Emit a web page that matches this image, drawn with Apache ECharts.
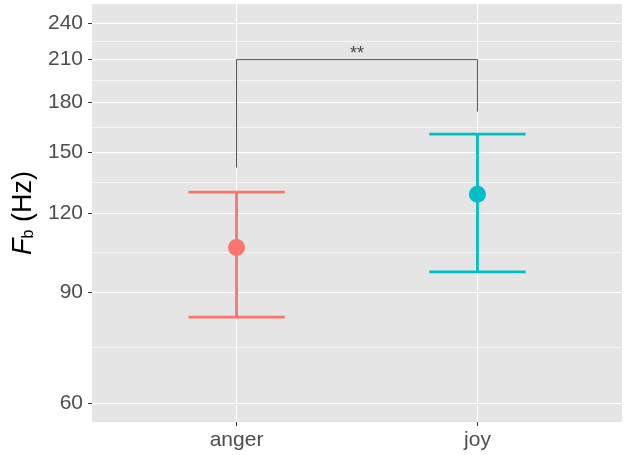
<!DOCTYPE html>
<html>
<head>
<meta charset="utf-8">
<script src="https://cdn.jsdelivr.net/npm/echarts@6/dist/echarts.min.js"></script>
<style>
html,body{margin:0;padding:0;background:#fff;}
#c{width:624px;height:455px;}
</style>
</head>
<body>
<div id="c"></div>
<script>
const categories = ['anger', 'joy'];
const meanValues = [105.8, 128.5];
const lowerValues = [82.1, 96.8];
const upperValues = [129.5, 160.0];
const yTickValues = [60, 90, 120, 150, 180, 210, 240];
const yRange = [56.0, 257.2];
const bracketCats = [1, 1, 2, 2];
const bracketValues = [141.6, 210, 210, 173.7];
const sigLabel = '**';
const colors = ['#F8766D', '#00BFC4'];

const L = Math.log;
const majorLog = yTickValues.map(L);
const minorLog = [];
for (let i = 0; i < majorLog.length - 1; i++) minorLog.push((majorLog[i] + majorLog[i + 1]) / 2);
const xPos = categories.map((c, i) => i + 1);

const chart = echarts.init(document.getElementById('c'), null, {renderer: 'canvas'});
const fontFam = 'Liberation Sans, Arial, sans-serif';

const option = {
  animation: false,
  backgroundColor: '#ffffff',
  grid: {left: 92, right: 2, top: 4, bottom: 33, show: true, backgroundColor: '#E5E5E5', borderWidth: 0},
  xAxis: {
    type: 'value', min: 0.4, max: 2.6,
    axisLine: {show: false},
    axisTick: {show: true, length: 4, lineStyle: {color: '#333333', width: 1}, customValues: xPos},
    axisLabel: {customValues: xPos, formatter: v => categories[Math.round(v) - 1], color: '#4D4D4D', fontSize: 21, fontFamily: fontFam, margin: 8},
    splitLine: {show: true, lineStyle: {color: '#ffffff', width: 1.2}}
  },
  yAxis: [{
    type: 'value', min: L(yRange[0]), max: L(yRange[1]),
    axisLine: {show: false},
    axisTick: {show: true, length: 4, lineStyle: {color: '#333333', width: 1}, customValues: majorLog},
    axisLabel: {customValues: majorLog, formatter: v => String(Math.round(Math.exp(v))), color: '#4D4D4D', fontSize: 21, fontFamily: fontFam, margin: 9},
    splitLine: {show: true, lineStyle: {color: '#ffffff', width: 1.2}},
    name: '{i|F}{s|b}{n| (Hz)}',
    nameLocation: 'middle', nameRotate: 90, nameGap: 45,
    nameTextStyle: {
      fontFamily: fontFam, color: '#000',
      rich: {
        i: {fontStyle: 'italic', fontSize: 27, fontFamily: fontFam, color: '#000'},
        s: {fontSize: 16, fontFamily: fontFam, color: '#000', padding: [10, 0, 0, 0]},
        n: {fontSize: 27, fontFamily: fontFam, color: '#000'}
      }
    }
  }, {
    type: 'value', min: L(yRange[0]), max: L(yRange[1]), position: 'left',
    axisLine: {show: false},
    axisTick: {show: false, customValues: minorLog},
    axisLabel: {show: false, customValues: minorLog},
    splitLine: {show: true, lineStyle: {color: '#ffffff', width: 0.6}}
  }],
  series: [{
    type: 'custom',
    yAxisIndex: 0,
    data: xPos.map((x, i) => [x, L(lowerValues[i]), L(upperValues[i])]),
    renderItem: function (params, api) {
      const x = api.value(0);
      const lo = api.coord([x, api.value(1)]);
      const hi = api.coord([x, api.value(2)]);
      const hw = api.size([0.2, 0])[0];
      const style = {stroke: colors[params.dataIndex], lineWidth: 2.8};
      return {type: 'group', children: [
        {type: 'line', shape: {x1: lo[0], y1: lo[1], x2: hi[0], y2: hi[1]}, style: style},
        {type: 'line', shape: {x1: lo[0] - hw, y1: lo[1], x2: lo[0] + hw, y2: lo[1]}, style: style},
        {type: 'line', shape: {x1: hi[0] - hw, y1: hi[1], x2: hi[0] + hw, y2: hi[1]}, style: style}
      ]};
    },
    z: 2
  }, {
    type: 'scatter',
    yAxisIndex: 0,
    data: xPos.map((x, i) => [x, L(meanValues[i])]),
    symbolSize: 17,
    itemStyle: {color: p => colors[p.dataIndex], opacity: 1},
    z: 3
  }, {
    type: 'line',
    yAxisIndex: 0,
    data: bracketCats.map((x, i) => [x, L(bracketValues[i])]),
    symbol: 'none',
    lineStyle: {color: '#555555', width: 1},
    silent: true,
    z: 4
  }, {
    type: 'scatter',
    yAxisIndex: 0,
    data: [[(xPos[0] + xPos[1]) / 2, L(bracketValues[1])]],
    symbol: 'circle',
    symbolSize: 1,
    itemStyle: {color: 'rgba(0,0,0,0)'},
    label: {show: true, position: 'top', distance: -4, formatter: sigLabel, fontSize: 18, color: '#1a1a1a', fontFamily: fontFam},
    silent: true,
    z: 5
  }]
};
chart.setOption(option);
</script>
</body>
</html>
